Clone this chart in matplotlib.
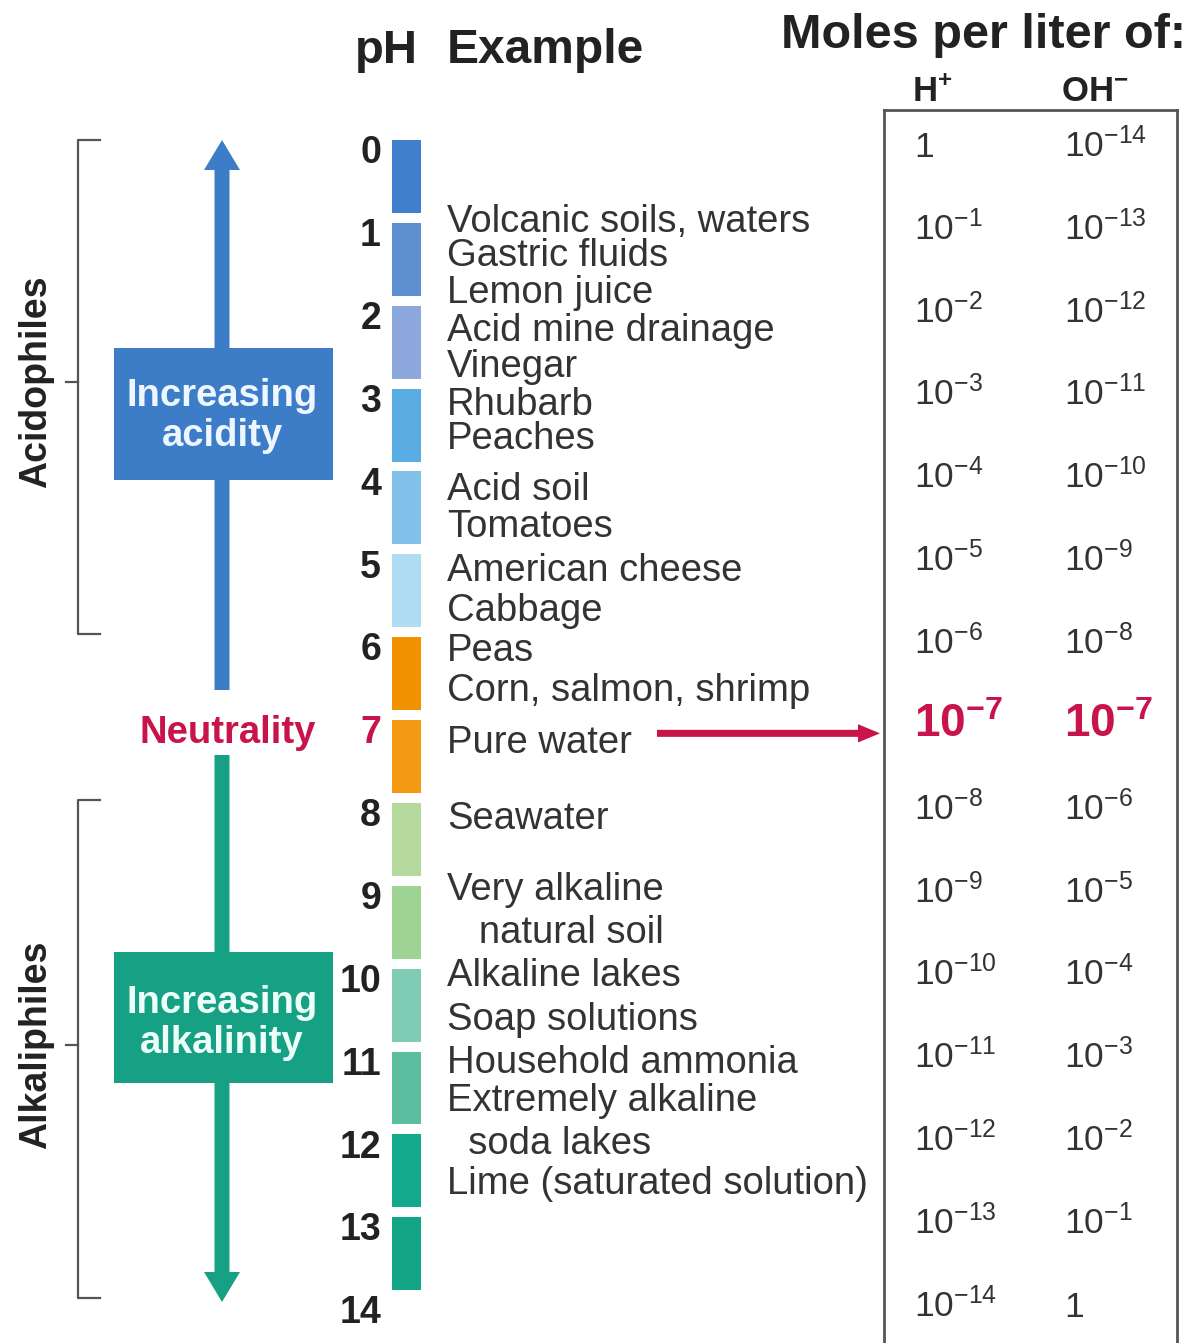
import matplotlib.pyplot as plt
from matplotlib.patches import Rectangle, FancyArrow

plt.rcParams['font.family'] = ['Liberation Sans', 'DejaVu Sans']

# ---- data ----
ph_values = list(range(15))
bar_colors = ['#3f7fcb', '#5e8fd0', '#8ca8dc', '#5aade2', '#82c2ea', '#b0dcf3',
              '#f39200', '#f39a12', '#b5d99c', '#9fd393', '#80cbb4', '#5bbf9f',
              '#12a98c', '#14a586']
examples = ['Volcanic soils, waters', 'Gastric fluids', 'Lemon juice',
            'Acid mine drainage', 'Vinegar', 'Rhubarb', 'Peaches', 'Acid soil',
            'Tomatoes', 'American cheese', 'Cabbage', 'Peas',
            'Corn, salmon, shrimp', 'Pure water', 'Seawater', 'Very alkaline',
            '   natural soil', 'Alkaline lakes', 'Soap solutions',
            'Household ammonia', 'Extremely alkaline', '  soda lakes',
            'Lime (saturated solution)']
example_ph = [0.83, 1.24, 1.69, 2.14, 2.58, 3.04, 3.45, 4.07, 4.51, 5.04, 5.52,
              6.01, 6.49, 7.12, 8.03, 8.89, 9.41, 9.93, 10.46, 10.98, 11.44,
              11.96, 12.44]
h_exp = [-p for p in ph_values]
oh_exp = [p - 14 for p in ph_values]

# colours
BLUE = '#3d7dc8'
TEAL = '#17a184'
RED = '#c8144a'
GRAY = '#555555'
TXT = '#333333'


def py(pix):
    """pixel row -> pH units (pH 0 sits at row 150, 82.86 px per unit)"""
    return (pix - 150) / 82.86


def conc(e):
    if e == 0:
        return '1'
    return r'$\mathregular{10^{%d}}$' % e


fig = plt.figure(figsize=(11.9, 13.43), dpi=100)
ax = fig.add_axes([0, 0, 1, 1])
ax.set_xlim(0, 1190)
ax.set_ylim(py(1343), py(0))
ax.axis('off')

# headers
ax.text(355, py(63), 'pH', fontsize=34, fontweight='bold', color='#222', va='baseline')
ax.text(447, py(63), 'Example', fontsize=34.5, fontweight='bold', color='#222', va='baseline')
ax.text(1186, py(48), 'Moles per liter of:', fontsize=35, fontweight='bold',
        color='#222', va='baseline', ha='right')
ax.text(932, py(101), r'$\mathregular{H^{+}}$', fontsize=25, fontweight='bold',
        color='#222', va='baseline', ha='center')
ax.text(1095, py(101), r'$\mathregular{OH^{-}}$', fontsize=25, fontweight='bold',
        color='#222', va='baseline', ha='center')

# pH colour bar
ax.bar([406.5] * 14, [0.88] * 14, bottom=[p - 0.12 for p in ph_values[:-1]],
       width=29, color=bar_colors, linewidth=0)

# pH numbers
for p in ph_values:
    c = RED if p == 7 else '#222'
    ax.text(381, p + 0.16, str(p), fontsize=27, fontweight='bold', color=c,
            ha='right', va='baseline')

# examples
for name, p in zip(examples, example_ph):
    ax.text(447, p + 0.16, name, fontsize=27.5, color=TXT, va='baseline')

# concentration table
ax.plot([884, 884], [py(1343), py(110)], color=GRAY, lw=2)
ax.plot([1177, 1177], [py(1343), py(110)], color=GRAY, lw=2)
ax.plot([884, 1177], [py(110), py(110)], color=GRAY, lw=2)
for p, he, oe in zip(ph_values, h_exp, oh_exp):
    if p == 7:
        kw = dict(fontsize=33, fontweight='bold', color=RED)
    else:
        kw = dict(fontsize=25.5, color=TXT)
    ax.text(914, p + 0.08, conc(he), va='baseline', **kw)
    ax.text(1064, p + 0.08, conc(oe), va='baseline', **kw)

# red arrow pure water -> 10^-7
ax.add_patch(FancyArrow(657, 7.04, 880 - 657, 0, width=0.085, head_width=0.22,
                        head_length=22, length_includes_head=True,
                        color=RED, lw=0))

# acidity arrow + box
ax.add_patch(FancyArrow(222, py(690), 0, py(140) - py(690), width=15,
                        head_width=36, head_length=30 / 82.86,
                        length_includes_head=True, color=BLUE, lw=0))
ax.add_patch(Rectangle((114, py(348)), 219, py(480) - py(348), color=BLUE, lw=0))
ax.text(222, py(416), 'Increasing\nacidity', fontsize=27.5, fontweight='bold',
        color='#eef6ff', ha='center', va='center', linespacing=1.15)

# alkalinity arrow + box
ax.add_patch(FancyArrow(222, py(755), 0, py(1302) - py(755), width=15,
                        head_width=36, head_length=30 / 82.86,
                        length_includes_head=True, color=TEAL, lw=0))
ax.add_patch(Rectangle((114, py(952)), 219, py(1083) - py(952), color=TEAL, lw=0))
ax.text(222, py(1023), 'Increasing\nalkalinity', fontsize=27.5, fontweight='bold',
        color='#eefff9', ha='center', va='center', linespacing=1.15)

# neutrality
ax.text(316, 7 + 0.16, 'Neutrality', fontsize=27.5, fontweight='bold', color=RED,
        ha='right', va='baseline')

# brackets
for top, bot, mid, label in [(140, 634, 382, 'Acidophiles'),
                             (800, 1298, 1045, 'Alkaliphiles')]:
    ax.plot([100, 78, 78, 100], [py(top), py(top), py(bot), py(bot)],
            color=GRAY, lw=1.6)
    ax.plot([66, 78], [py(mid), py(mid)], color=GRAY, lw=1.6)
    ax.text(36, py(mid), label, fontsize=27, fontweight='bold', color='#222',
            rotation=90, ha='center', va='center')

fig.savefig('out.png', dpi=100)
